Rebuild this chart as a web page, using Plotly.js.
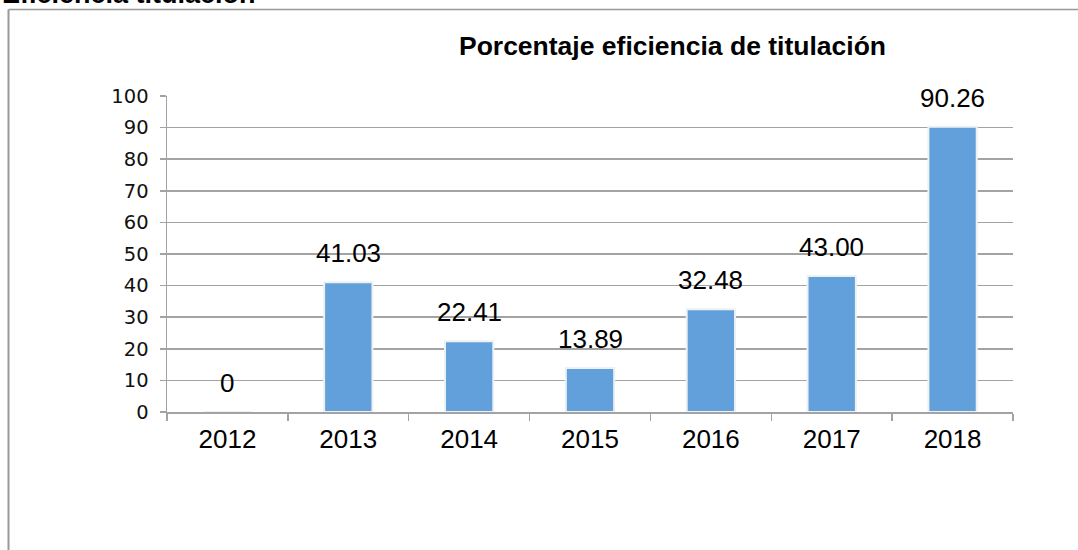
<!DOCTYPE html>
<html>
<head>
<meta charset="utf-8">
<script src="https://cdn.plot.ly/plotly-3.0.1.min.js"></script>
<style>html,body{margin:0;padding:0;background:#fff;}#chart{width:1078px;height:550px;}</style>
</head>
<body>
<div id="chart"></div>
<script>
const years = ['2012', '2013', '2014', '2015', '2016', '2017', '2018'];
const values = [0, 41.03, 22.41, 13.89, 32.48, 43.00, 90.26];
const yTicks = [0, 10, 20, 30, 40, 50, 60, 70, 80, 90, 100];
const chartTitle = 'Porcentaje eficiencia de titulación';
const headerText = 'Eficiencia titulación';

const labels = values.map(v => v === 0 ? '0' : v.toFixed(2));

const W = 1078, H = 550;
const m = {l: 167, r: 65, t: 96, b: 138};
const pw = W - m.l - m.r, ph = H - m.t - m.b;
const px = x => (x - m.l) / pw;
const py = y => (H - m.b - y) / ph;

const gray = '#a3a3a3';

const trace = {
  type: 'bar',
  x: years,
  y: values,
  marker: {color: '#62a0db', line: {color: '#eef1f4', width: 2}},
  hoverinfo: 'x+y'
};

const annotations = years.map((yr, i) => ({
  x: i, y: values[i], xref: 'x', yref: 'y',
  text: labels[i], showarrow: false,
  xanchor: 'center', yanchor: 'bottom', yshift: 12,
  font: {family: 'Liberation Sans, Arial, sans-serif', size: 26, color: '#000'}
}));

annotations.push({
  x: px(0), y: py(11), xref: 'paper', yref: 'paper',
  text: '<b>' + headerText + '</b>', showarrow: false,
  xanchor: 'left', yanchor: 'bottom',
  font: {family: 'Liberation Sans, Arial, sans-serif', size: 27, color: '#000'}
});

const layout = {
  width: W, height: H,
  margin: m,
  paper_bgcolor: '#fff', plot_bgcolor: '#fff',
  showlegend: false,
  bargap: 0.6,
  title: {
    text: '<b>' + chartTitle + '</b>',
    x: 672.5 / W, xref: 'container', xanchor: 'center',
    y: 1 - 46 / H, yref: 'container', yanchor: 'middle',
    font: {family: 'Liberation Sans, Arial, sans-serif', size: 26.5, color: '#000'}
  },
  xaxis: {
    type: 'category',
    categoryarray: years, categoryorder: 'array',
    range: [-0.5, years.length - 0.5],
    autorange: false,
    showline: true, linecolor: gray, linewidth: 1.5,
    ticks: 'outside', tickson: 'boundaries', ticklen: 7, tickcolor: gray, tickwidth: 1.5,
    ticklabelstandoff: 3,
    tickangle: 0,
    showgrid: false, zeroline: false,
    tickfont: {family: 'Liberation Sans, Arial, sans-serif', size: 26, color: '#000'},
    fixedrange: true
  },
  yaxis: {
    range: [0, 100],
    autorange: false,
    tickvals: yTicks,
    ticktext: yTicks.map(String),
    showline: true, linecolor: gray, linewidth: 1.5,
    ticks: 'outside', ticklen: 6, tickcolor: gray, tickwidth: 1.5,
    ticklabelstandoff: 7,
    showgrid: true, gridcolor: gray, gridwidth: 1.5,
    zeroline: false,
    tickfont: {family: 'DejaVu Sans, sans-serif', size: 19.5, color: '#111'},
    fixedrange: true
  },
  annotations: annotations,
  shapes: [
    {type: 'line', xref: 'paper', yref: 'paper', x0: px(8.5), x1: px(8.5), y0: py(9.5), y1: py(560), line: {color: '#999', width: 2}},
    {type: 'line', xref: 'paper', yref: 'paper', x0: px(8.5), x1: px(1090), y0: py(9.5), y1: py(9.5), line: {color: '#999', width: 1.5}}
  ]
};

Plotly.newPlot('chart', [trace], layout, {displayModeBar: false, staticPlot: true});
</script>
</body>
</html>
